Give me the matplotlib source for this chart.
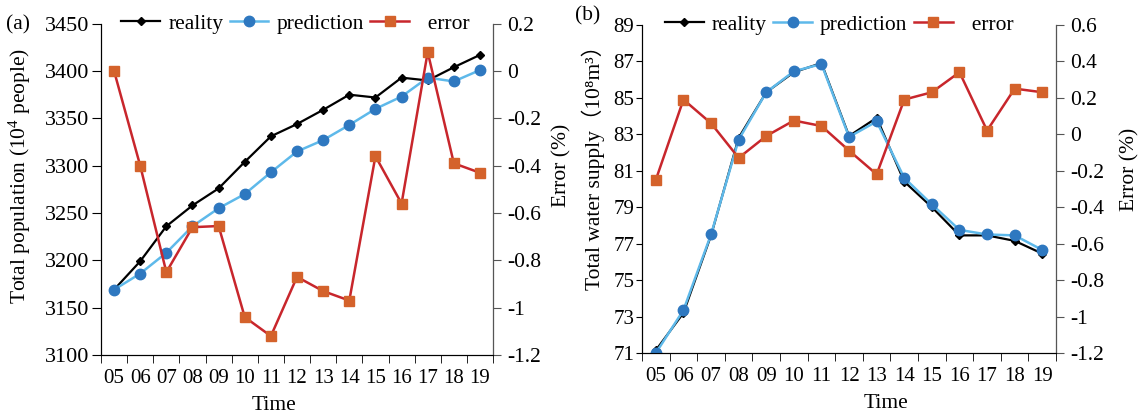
import numpy as np
import matplotlib
matplotlib.use("Agg")
import matplotlib.pyplot as plt
from matplotlib.ticker import FixedLocator

plt.rcParams['font.family'] = ['Liberation Serif', 'Noto Sans CJK SC']
plt.rcParams['mathtext.fontset'] = 'custom'
plt.rcParams['mathtext.rm'] = 'Liberation Serif'
plt.rcParams['mathtext.it'] = 'Liberation Serif:italic'
plt.rcParams['font.size'] = 15.5

# data
years = ['05', '06', '07', '08', '09', '10', '11', '12', '13', '14', '15', '16', '17', '18', '19']

pop_real = [3169, 3199, 3236, 3258, 3276, 3304, 3331, 3344, 3359, 3375, 3372, 3393, 3390, 3404, 3417]
pop_pred = [3169, 3186, 3208, 3236, 3255, 3270, 3293, 3315, 3327, 3343, 3360, 3373, 3393, 3389, 3401]
pop_err = [0.0, -0.40, -0.85, -0.66, -0.655, -1.04, -1.12, -0.87, -0.93, -0.97, -0.36, -0.56, 0.08, -0.39, -0.43]

water_real = [71.15, 73.2, 77.45, 82.8, 85.3, 86.4, 86.9, 82.9, 83.9, 80.4, 79.0, 77.45, 77.45, 77.15, 76.45]
water_pred = [71.0, 73.35, 77.5, 82.7, 85.3, 86.45, 86.85, 82.85, 83.7, 80.6, 79.15, 77.75, 77.5, 77.45, 76.65]
water_err = [-0.25, 0.19, 0.06, -0.13, -0.01, 0.075, 0.045, -0.09, -0.22, 0.19, 0.23, 0.34, 0.02, 0.25, 0.23]

pop_ticks = [3100, 3150, 3200, 3250, 3300, 3350, 3400, 3450]
pop_err_ticks = [-1.2, -1, -0.8, -0.6, -0.4, -0.2, 0, 0.2]
water_ticks = [71, 73, 75, 77, 79, 81, 83, 85, 87, 89]
water_err_ticks = [-1.2, -1, -0.8, -0.6, -0.4, -0.2, 0, 0.2, 0.4, 0.6]

c_real = 'black'
c_pred_line = '#5EB9EA'
c_pred_mk = '#2E78C0'
c_err_line = '#C8262C'
c_err_mk = '#D4622B'

fig = plt.figure(figsize=(11.4, 4.17), dpi=100)


def panel(rect, real, pred, err, yticks, ylabel, eticks, tag, tagpos,
          ylab_xy, elab_xy, time_x, leg_x, ytick_style):
    ax = fig.add_axes(rect)
    x = np.arange(len(years))
    l1, = ax.plot(x, real, color=c_real, lw=1.6, marker='D', ms=4, label='reality', zorder=3)
    l2, = ax.plot(x, pred, color=c_pred_line, lw=1.8, marker='o', ms=7.5,
                  mfc=c_pred_mk, mec=c_pred_mk, label='prediction', zorder=4)
    ax.set_ylim(yticks[0], yticks[-1])
    ax.set_yticks(yticks)
    ax.set_xlim(-0.5, len(years) - 0.5)
    ax.set_xticks(x)
    ax.set_xticklabels(years, fontsize=15)
    ax.tick_params(axis='x', which='major', length=0, pad=10)
    ax.xaxis.set_minor_locator(FixedLocator(np.arange(-0.5, len(years), 1.0)))
    ax.tick_params(axis='x', which='minor', length=6, direction='out')
    ax.tick_params(axis='y', direction='out', **ytick_style)
    ax.spines['top'].set_visible(False)
    ax.set_xlabel('Time', fontsize=15.5, va='top')
    ax.xaxis.set_label_coords(time_x, -0.125)
    ax.set_ylabel(ylabel, fontsize=15.5)
    ax.yaxis.set_label_coords(*ylab_xy)

    ax2 = ax.twinx()
    l3, = ax2.plot(x, err, color=c_err_line, lw=1.8, marker='s', ms=6.5,
                   mfc=c_err_mk, mec=c_err_mk, label='error', zorder=5)
    ax2.set_ylim(eticks[0], eticks[-1])
    ax2.set_yticks(eticks)
    ax2.set_yticklabels([('%g' % v) for v in eticks])
    ax2.tick_params(axis='y', length=5.5, direction='out', pad=4.5, color='#555555', labelsize=15.5)
    ax2.spines['top'].set_visible(False)
    ax2.spines['right'].set_color('#555555')
    ax2.set_ylabel('Error (%)', fontsize=15.5)
    ax2.yaxis.set_label_coords(*elab_xy)
    ax2.legend(handles=[l1, l2, l3], labels=['reality', 'prediction', '  error'],
               loc='center', bbox_to_anchor=(leg_x, 1.0),
               ncol=3, frameon=False, handlelength=1.8, columnspacing=0.3,
               handletextpad=0.37, borderaxespad=0, borderpad=0, fontsize=15.5)
    fig.text(tagpos[0], tagpos[1], tag, fontsize=15.5, ha='left', va='center')
    return ax, ax2


panel([0.0886, 0.1487, 0.3439, 0.7945], pop_real, pop_pred, pop_err,
      pop_ticks, 'Total population (10$^4$ people)',
      pop_err_ticks, '(a)', (0.005, 0.94),
      (-0.173, 0.539), (1.15, 0.573), 0.44, 0.496,
      dict(length=6.5, pad=2, labelsize=16))

panel([0.5632, 0.1535, 0.3632, 0.787], water_real, water_pred, water_err,
      water_ticks, 'Total water supply\uff0810\u2078m\u00b3\uff09',
      water_err_ticks, '(b)', (0.504, 0.962),
      (-0.09, 0.58), (1.155, 0.56), 0.59, 0.476,
      dict(length=4, pad=1.5, labelsize=15))

fig.savefig('out.png', dpi=100)
